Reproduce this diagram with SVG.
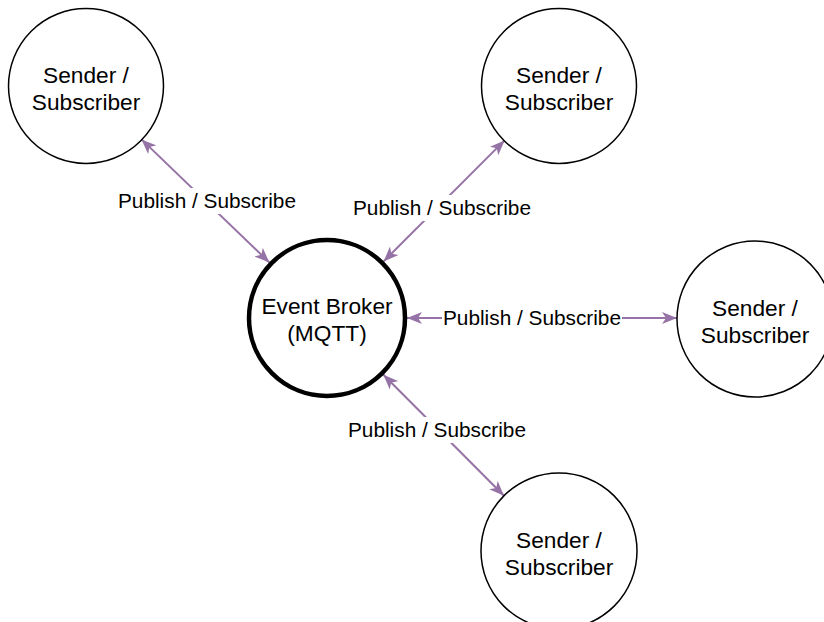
<svg xmlns="http://www.w3.org/2000/svg" width="824" height="622" viewBox="0 0 824 622">
  <defs>
    <style>
      .node { fill: #ffffff; stroke: #000000; stroke-width: 1.5; }
      .broker { fill: #ffffff; stroke: #000000; stroke-width: 4.5; }
      .ntext { font-family: "Liberation Sans", Arial, sans-serif; font-size: 22.7px; fill: #000000; text-anchor: middle; }
      .edge { stroke: #9673a6; stroke-width: 2; fill: none; marker-start: url(#arrow); marker-end: url(#arrow); }
      .ltext { font-family: "Liberation Sans", Arial, sans-serif; font-size: 20.8px; fill: #000000; text-anchor: middle; }
      .lbg { fill: #ffffff; }
    </style>
    <marker id="arrow" viewBox="0 0 15 12" refX="15" refY="6" markerWidth="15" markerHeight="12" markerUnits="userSpaceOnUse" orient="auto-start-reverse">
      <path d="M15,6 L0,0 L4,6 L0,12 Z" fill="#9673a6"/>
    </marker>
  </defs>
  <rect width="824" height="622" fill="#ffffff"/>

  <g id="connectors">
    <g id="edge-tl">
      <line class="edge" x1="269.4" y1="262.5" x2="141.5" y2="139.4"/>
      <rect class="lbg" x="116" y="188" width="182" height="26"/>
      <text class="ltext" x="207" y="208">Publish / Subscribe</text>
    </g>
    <g id="edge-tr">
      <line class="edge" x1="383.6" y1="261.4" x2="504.6" y2="140.4"/>
      <rect class="lbg" x="351" y="195" width="182" height="26"/>
      <text class="ltext" x="442" y="215">Publish / Subscribe</text>
    </g>
    <g id="edge-r">
      <line class="edge" x1="407" y1="318" x2="677" y2="318"/>
      <rect class="lbg" x="442" y="305" width="180" height="26"/>
      <text class="ltext" x="532" y="325">Publish / Subscribe</text>
    </g>
    <g id="edge-b">
      <line class="edge" x1="383.4" y1="374.7" x2="504" y2="495.7"/>
      <rect class="lbg" x="346" y="417" width="182" height="26"/>
      <text class="ltext" x="437" y="437">Publish / Subscribe</text>
    </g>
  </g>

  <g id="node-tl">
    <circle class="node" cx="86" cy="86" r="77.5"/>
    <text class="ntext" x="86" y="83">Sender /</text>
    <text class="ntext" x="86" y="110">Subscriber</text>
  </g>
  <g id="node-tr">
    <circle class="node" cx="559" cy="86" r="77.5"/>
    <text class="ntext" x="559" y="83">Sender /</text>
    <text class="ntext" x="559" y="110">Subscriber</text>
  </g>
  <g id="node-r">
    <circle class="node" cx="755" cy="319" r="78"/>
    <text class="ntext" x="755" y="316">Sender /</text>
    <text class="ntext" x="755" y="343">Subscriber</text>
  </g>
  <g id="node-b">
    <circle class="node" cx="559" cy="551" r="78"/>
    <text class="ntext" x="559" y="548">Sender /</text>
    <text class="ntext" x="559" y="575">Subscriber</text>
  </g>
  <g id="node-broker">
    <circle class="broker" cx="327" cy="318" r="78"/>
    <text class="ntext" x="327" y="314">Event Broker</text>
    <text class="ntext" x="327" y="341">(MQTT)</text>
  </g>
</svg>
